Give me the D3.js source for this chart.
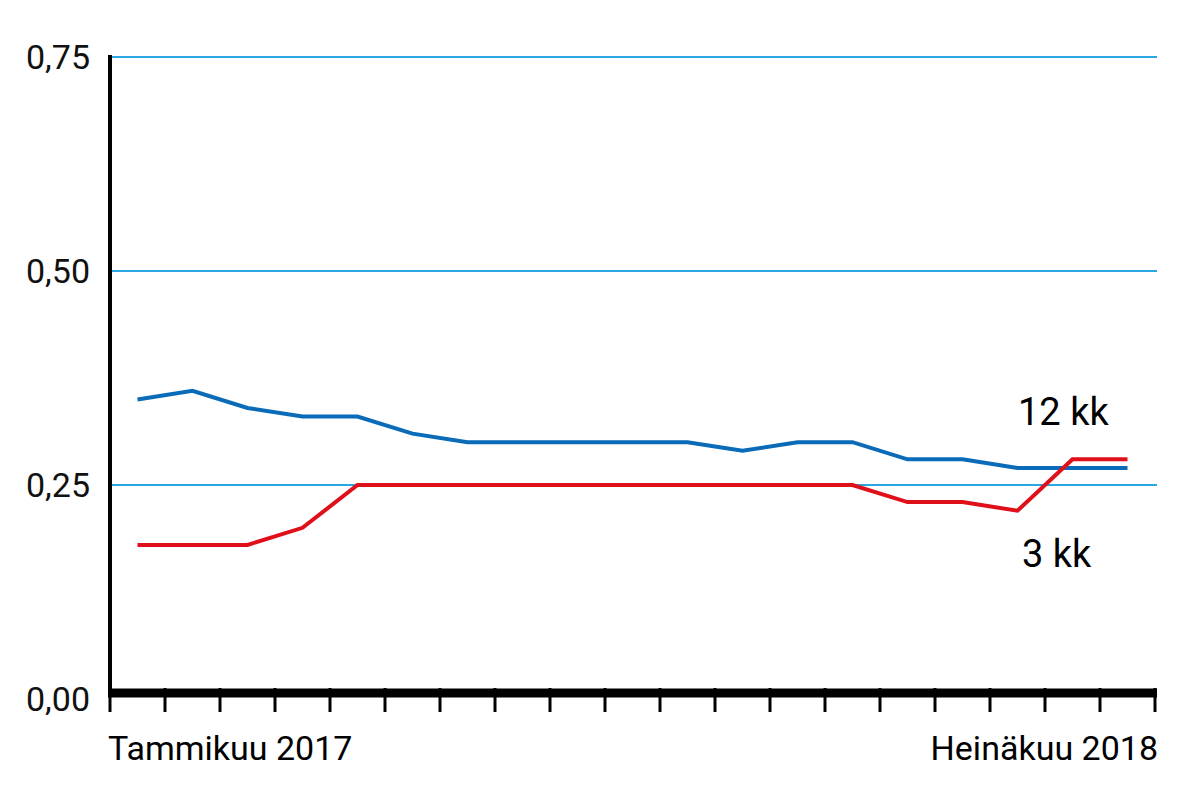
<!DOCTYPE html>
<html><head><meta charset="utf-8">
<script src="https://cdn.jsdelivr.net/npm/d3@7"></script>
<style>body{margin:0;background:#fff}</style>
</head><body>
<svg id="chart" width="1200" height="811"></svg>
<script>
// monthly values, Jan 2017 .. Jul 2018
const months = d3.range(19);
const series12 = [0.35,0.36,0.34,0.33,0.33,0.31,0.30,0.30,0.30,0.30,0.30,0.29,0.30,0.30,0.28,0.28,0.27,0.27,0.27];
const series3 = [0.18,0.18,0.18,0.20,0.25,0.25,0.25,0.25,0.25,0.25,0.25,0.25,0.25,0.25,0.23,0.23,0.22,0.28,0.28];
const yTicks = [0, 0.25, 0.5, 0.75];
const yLabels = ["0,00", "0,25", "0,50", "0,75"];

const font = "'Liberation Sans Narrow','Roboto',sans-serif";
const svg = d3.select("#chart");
const x = d3.scaleBand().domain(months).range([110, 1155]);
const y = d3.scaleLinear().domain([0, 0.75]).range([699, 57]);

// gridlines
svg.selectAll(".grid").data(yTicks.slice(1)).join("line")
    .attr("x1", 110).attr("x2", 1157)
    .attr("y1", d => y(d)).attr("y2", d => y(d))
    .attr("stroke", "#2aa6e0").attr("stroke-width", 2);

// y labels
svg.selectAll(".yl").data(yTicks).join("text")
    .attr("x", 90).attr("y", d => y(d) + 12)
    .attr("text-anchor", "end")
    .style("font-family", font).style("font-size", "34px").style("fill", "#111")
    .text((d, i) => yLabels[i]);

// axes
svg.append("line").attr("x1", 110).attr("x2", 110).attr("y1", 55).attr("y2", 697)
    .attr("stroke", "#000").attr("stroke-width", 4);
svg.append("line").attr("x1", 108).attr("x2", 1157).attr("y1", 693).attr("y2", 693)
    .attr("stroke", "#000").attr("stroke-width", 9);
svg.selectAll(".tick").data(d3.range(20)).join("line")
    .attr("x1", d => 110 + d * x.step()).attr("x2", d => 110 + d * x.step())
    .attr("y1", 688).attr("y2", 712)
    .attr("stroke", "#000").attr("stroke-width", 3);

svg.append("text").attr("x", 108).attr("y", 760)
    .style("font-family", font).style("font-size", "34px").text("Tammikuu 2017");
svg.append("text").attr("x", 1158).attr("y", 760).attr("text-anchor", "end")
    .style("font-family", font).style("font-size", "34px").text("Heinäkuu 2018");

const line = d3.line().x((d, i) => x(i) + x.bandwidth() / 2).y(d => y(d));
svg.append("path").datum(series12).attr("d", line)
    .attr("fill", "none").attr("stroke", "#0a6bb8").attr("stroke-width", 4);
svg.append("path").datum(series3).attr("d", line)
    .attr("fill", "none").attr("stroke", "#e0101a").attr("stroke-width", 4);

svg.append("text").attr("x", 1018).attr("y", 425)
    .style("font-family", font).style("font-size", "38px").text("12 kk");
svg.append("text").attr("x", 1022).attr("y", 567)
    .style("font-family", font).style("font-size", "38px").text("3 kk");
</script>
</body></html>
